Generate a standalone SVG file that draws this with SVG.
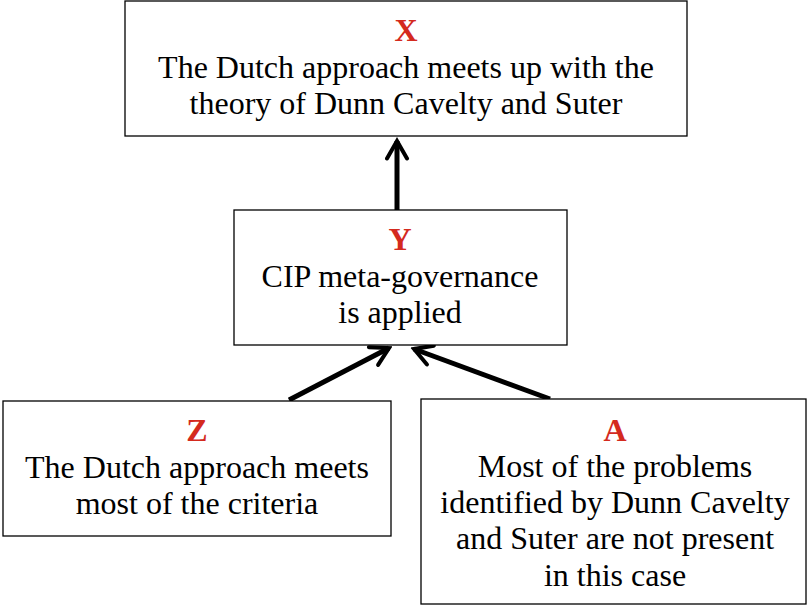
<svg xmlns="http://www.w3.org/2000/svg" width="810" height="606" viewBox="0 0 810 606">
<style>
.box{fill:#fff;stroke:#000;stroke-width:1.3}
.t{font-family:"Liberation Serif","Times New Roman",serif;font-size:32px;fill:#000;text-anchor:middle}
.k{font-weight:bold;fill:#d42a1e}
.c{stroke:#000;stroke-width:5;fill:none}
</style>
<defs>
<marker id="ah" viewBox="0 0 10 10" refX="8.5" refY="5" markerWidth="5" markerHeight="5" orient="auto" markerUnits="strokeWidth">
<polyline points="1.5,1 8.5,5 1.5,9" fill="none" stroke="#000" stroke-width="1.6" stroke-linecap="round" stroke-linejoin="miter"/>
</marker>
</defs>
<rect width="810" height="606" fill="#fff"/>
<g id="connectors">
<line class="c" x1="397" y1="210" x2="397" y2="141" marker-end="url(#ah)"/>
<line class="c" x1="289" y1="400" x2="389" y2="348" marker-end="url(#ah)"/>
<line class="c" x1="550" y1="399" x2="414" y2="349" marker-end="url(#ah)"/>
</g>
<g id="nodeX">
<rect class="box" x="125" y="1" width="562" height="135"/>
<text class="t k" x="406" y="41">X</text>
<text class="t" x="406" y="78">The Dutch approach meets up with the</text>
<text class="t" x="406" y="114">theory of Dunn Cavelty and Suter</text>
</g>
<g id="nodeY">
<rect class="box" x="234" y="210" width="333" height="135"/>
<text class="t k" x="400" y="250">Y</text>
<text class="t" x="400" y="287">CIP meta-governance</text>
<text class="t" x="400" y="323">is applied</text>
</g>
<g id="nodeZ">
<rect class="box" x="3" y="401" width="388" height="135"/>
<text class="t k" x="197" y="441">Z</text>
<text class="t" x="197" y="478">The Dutch approach meets</text>
<text class="t" x="197" y="514">most of the criteria</text>
</g>
<g id="nodeA">
<rect class="box" x="421" y="399" width="385" height="205"/>
<text class="t k" x="615" y="441">A</text>
<text class="t" x="615" y="477">Most of the problems</text>
<text class="t" x="615" y="513">identified by Dunn Cavelty</text>
<text class="t" x="615" y="549">and Suter are not present</text>
<text class="t" x="615" y="586">in this case</text>
</g>
</svg>
